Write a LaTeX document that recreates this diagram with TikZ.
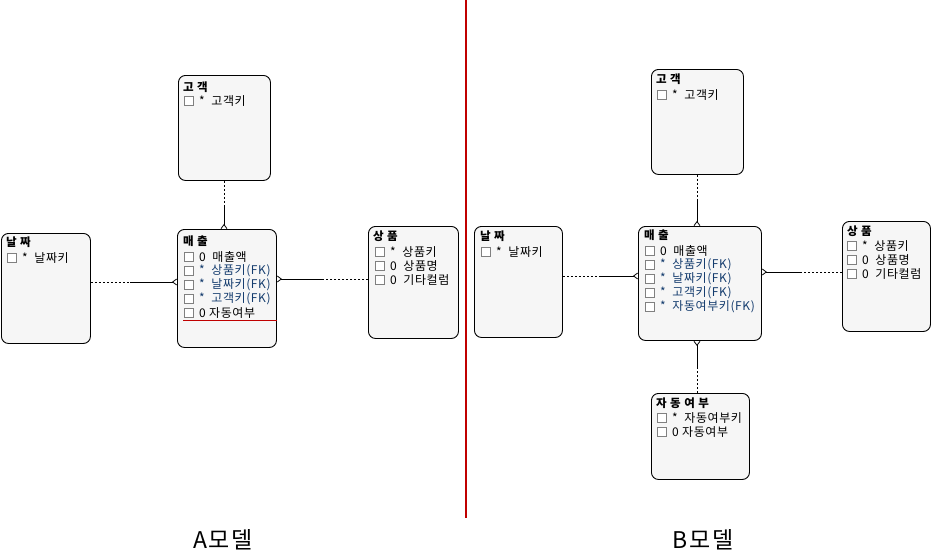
\documentclass[tikz,border=0pt]{standalone}
\usepackage{fontspec}
\setmainfont{Noto Sans CJK KR}
\newfontfamily\kr[LetterSpace=5]{Noto Sans CJK KR}
\newfontfamily\krt[LetterSpace=30]{Noto Sans CJK KR}
\newfontfamily\krl[LetterSpace=8]{Noto Sans CJK KR}
\usetikzlibrary{arrows.meta}
\definecolor{fkblue}{RGB}{20,60,110}
\definecolor{boxfill}{RGB}{246,246,246}
\definecolor{divred}{RGB}{192,0,0}
\tikzset{
  ent/.style={draw=black, line width=0.9pt, fill=boxfill, rounded corners=7pt, anchor=north west, inner sep=0pt},
  ttl/.style={anchor=west, inner sep=0pt, font=\krt\fontsize{11.5}{12}\selectfont\bfseries},
  row/.style={anchor=west, inner sep=0pt, xshift=2pt, font=\kr\fontsize{12}{13}\selectfont},
  fk/.style={row, text=fkblue},
  chk/.style={draw=gray, line width=0.6pt, fill=white, minimum size=9.5pt, inner sep=0pt},
  dsh/.style={line width=0.7pt, dash pattern=on 2.5pt off 1.5pt},
  sld/.style={line width=0.8pt},
  crow/.style={sld, -{Straight Barb[reversed, length=4pt, width=6pt]}},
  lbl/.style={inner sep=0pt, font=\krl\fontsize{23}{25}\selectfont}
}
\begin{document}
\begin{tikzpicture}[x=1pt,y=-1pt]
\useasboundingbox (0,0) rectangle (932,557);
\fill[white] (0,0) rectangle (932,557);

% ===== A model =====
\node[ent, minimum width=92pt, minimum height=105pt] (Acust) at (178,75) {};
\node[ttl] (AcustT) at (183,87) {고객};
\node[chk] (AcustC1) at (189,101) {};
\node[row] (AcustR1) at (197,101) {*\ \ 고객키};

\node[ent, minimum width=99pt, minimum height=118pt] (Asale) at (177,229) {};
\node[ttl] (AsaleT) at (183,241) {매출};
\node[chk] (AsaleC1) at (189,257) {};
\node[row] (AsaleR1) at (197,257) {0\ \ 매출액};
\node[chk] (AsaleC2) at (189,271) {};
\node[fk] (AsaleR2) at (197,271) {*\ \ 상품키(FK)};
\node[chk] (AsaleC3) at (189,285) {};
\node[fk] (AsaleR3) at (197,285) {*\ \ 날짜키(FK)};
\node[chk] (AsaleC4) at (189,299) {};
\node[fk] (AsaleR4) at (197,299) {*\ \ 고객키(FK)};
\node[chk] (AsaleC5) at (189,313) {};
\node[row] (AsaleR5) at (197,313) {0\ 자동여부};
\coordinate (AredL) at (183,320);
\draw[divred, line width=0.9pt] (AredL) -- (AredL -| Asale.east);

\node[ent, minimum width=89pt, minimum height=110pt] (Adate) at (1,233) {};
\node[ttl] (AdateT) at (6,242) {날짜};
\node[chk] (AdateC1) at (12,258) {};
\node[row] (AdateR1) at (20,258) {*\ \ 날짜키};

\node[ent, minimum width=90pt, minimum height=112pt] (Aprod) at (368,226) {};
\node[ttl] (AprodT) at (373,236) {상품};
\node[chk] (AprodC1) at (380,252) {};
\node[row] (AprodR1) at (388,252) {*\ \ 상품키};
\node[chk] (AprodC2) at (380,266) {};
\node[row] (AprodR2) at (388,266) {0\ \ 상품명};
\node[chk] (AprodC3) at (380,280) {};
\node[row] (AprodR3) at (388,280) {0\ \ 기타컬럼};

% A connectors
\coordinate (yAd) at (0,282);
\coordinate (yAp) at (0,279);
\coordinate (xAc) at (224,0);
\coordinate (mAd) at (130,282);
\coordinate (mAp) at (322,279);
\coordinate (mAc) at (224,205);
\draw[dsh] (Adate.east |- yAd) -- (mAd);
\draw[crow] (mAd) -- (Asale.west |- yAd);
\draw[dsh] (Aprod.west |- yAp) -- (mAp);
\draw[crow] (mAp) -- (Asale.east |- yAp);
\draw[dsh] (Acust.south -| xAc) -- (mAc);
\draw[crow] (mAc) -- (Asale.north -| xAc);

% divider
\coordinate (divT) at (466,0);
\coordinate (divB) at (466,518);
\draw[divred, line width=2.6pt] (divT) -- (divB);

% ===== B model =====
\node[ent, minimum width=92pt, minimum height=105pt] (Bcust) at (651,69) {};
\node[ttl] (BcustT) at (656,79) {고객};
\node[chk] (BcustC1) at (662,95) {};
\node[row] (BcustR1) at (670,95) {*\ \ 고객키};

\node[ent, minimum width=123pt, minimum height=114pt] (Bsale) at (638,226) {};
\node[ttl] (BsaleT) at (644,235) {매출};
\node[chk] (BsaleC1) at (650,251) {};
\node[row] (BsaleR1) at (658,251) {0\ \ 매출액};
\node[chk] (BsaleC2) at (650,265) {};
\node[fk] (BsaleR2) at (658,265) {*\ \ 상품키(FK)};
\node[chk] (BsaleC3) at (650,279) {};
\node[fk] (BsaleR3) at (658,279) {*\ \ 날짜키(FK)};
\node[chk] (BsaleC4) at (650,293) {};
\node[fk] (BsaleR4) at (658,293) {*\ \ 고객키(FK)};
\node[chk] (BsaleC5) at (650,307) {};
\node[fk] (BsaleR5) at (658,307) {*\ \ 자동여부키(FK)};

\node[ent, minimum width=88pt, minimum height=111pt] (Bdate) at (474,226) {};
\node[ttl] (BdateT) at (480,236) {날짜};
\node[chk] (BdateC1) at (486,252) {};
\node[row] (BdateR1) at (494,252) {*\ \ 날짜키};

\node[ent, minimum width=88pt, minimum height=110pt] (Bprod) at (842,221) {};
\node[ttl] (BprodT) at (847,231) {상품};
\node[chk] (BprodC1) at (852,246) {};
\node[row] (BprodR1) at (860,246) {*\ \ 상품키};
\node[chk] (BprodC2) at (852,260) {};
\node[row] (BprodR2) at (860,260) {0\ \ 상품명};
\node[chk] (BprodC3) at (852,274) {};
\node[row] (BprodR3) at (860,274) {0\ \ 기타컬럼};

\node[ent, minimum width=98pt, minimum height=86pt] (Bauto) at (651,393) {};
\node[ttl] (BautoT) at (656,403) {자동여부};
\node[chk] (BautoC1) at (662,418) {};
\node[row] (BautoR1) at (670,418) {*\ \ 자동여부키};
\node[chk] (BautoC2) at (662,432) {};
\node[row] (BautoR2) at (670,432) {0\ 자동여부};

% B connectors
\coordinate (yBd) at (0,276);
\coordinate (yBp) at (0,272);
\coordinate (xBc) at (697,0);
\coordinate (mBd) at (600,276);
\coordinate (mBp) at (800,272);
\coordinate (mBc) at (697,200);
\coordinate (mBa) at (697,367);
\draw[dsh] (Bdate.east |- yBd) -- (mBd);
\draw[crow] (mBd) -- (Bsale.west |- yBd);
\draw[dsh] (Bprod.west |- yBp) -- (mBp);
\draw[crow] (mBp) -- (Bsale.east |- yBp);
\draw[dsh] (Bcust.south -| xBc) -- (mBc);
\draw[crow] (mBc) -- (Bsale.north -| xBc);
\draw[dsh] (Bauto.north -| xBc) -- (mBa);
\draw[crow] (mBa) -- (Bsale.south -| xBc);

% labels
\node[lbl] (labA) at (223,540) {A모델};
\node[lbl] (labB) at (703,540) {B모델};
\end{tikzpicture}
\end{document}
